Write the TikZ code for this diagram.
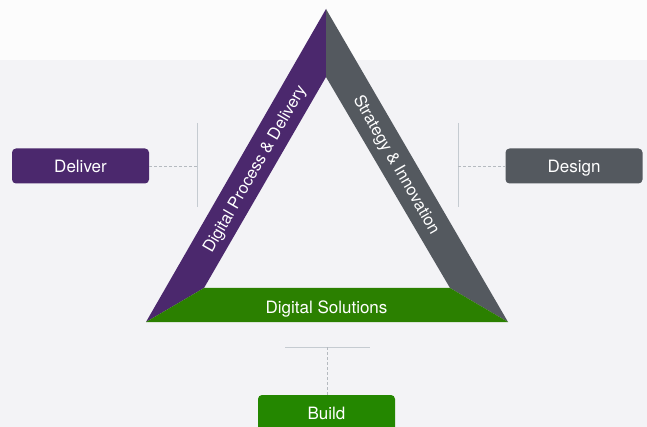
\documentclass[tikz,border=0pt]{standalone}
\usepackage{fontspec}
\setmainfont{TeX Gyre Heros}
\definecolor{bgGray}{HTML}{F3F3F6}
\definecolor{bgTop}{HTML}{FCFCFC}
\definecolor{tPurple}{HTML}{4B286D}
\definecolor{tGray}{HTML}{54595F}
\definecolor{tGreen}{HTML}{2B8000}
\definecolor{bGreen}{HTML}{248700}
\definecolor{lineGray}{HTML}{C5CBD1}
\definecolor{dashGray}{HTML}{B5BAC0}
\tikzset{
  box/.style={rounded corners=4pt, minimum width=137pt, minimum height=35pt, inner sep=0pt, text=white, font=\fontsize{17}{20}\selectfont, text height=12.2pt, text depth=0pt},
  bandtext/.style={text=white, font=\fontsize{16.5}{20}\selectfont, inner sep=0pt},
  conn/.style={draw=dashGray, dashed, dash pattern=on 3pt off 2pt, line width=0.8pt},
  bar/.style={draw=lineGray, line width=1pt}
}
\begin{document}
\begin{tikzpicture}[x=1pt,y=-1pt]
\clip (0,0) rectangle (647,427);
\fill[bgGray] (0,0) rectangle (647,427);
\fill[bgTop] (0,0) rectangle (647,60);
% triangle coordinates
\coordinate (apex) at (326,9);
\coordinate (iapex) at (326,77);
\coordinate (ol) at (146,322);
\coordinate (or) at (508,322);
\coordinate (il) at (204,288);
\coordinate (ir) at (450,288);
\fill[tPurple] (apex) -- (iapex) -- (il) -- (ol) -- cycle;
\fill[tGray] (apex) -- (or) -- (ir) -- (iapex) -- cycle;
\fill[tGreen] (ol) -- (il) -- (ir) -- (or) -- cycle;
\node[bandtext, rotate=60.1] (dpd) at (255.5,169.5) {Digital Process \& Delivery};
\node[bandtext, rotate=-60.1] (si) at (396,165) {Strategy \& Innovation};
\node[bandtext, font=\fontsize{17}{20}\selectfont, text height=12.2pt, text depth=0pt] (ds) at (326.5,307) {Digital Solutions};
% side boxes
\node[box, fill=tPurple] (deliver) at (80.5,166) {Deliver};
\node[box, fill=tGray] (design) at (574,166) {Design};
\node[box, fill=bGreen, minimum height=37pt] (build) at (326.5,413.5) {Build};
% bars
\coordinate (lbT) at (197,123);
\coordinate (lbB) at (197,207);
\coordinate (lbM) at (197,166);
\coordinate (rbT) at (458,123);
\coordinate (rbB) at (458,207);
\coordinate (rbM) at (458,166);
\coordinate (bbL) at (285,347);
\coordinate (bbR) at (370,347);
\coordinate (bbM) at (327,347);
\draw[bar] (lbT) -- (lbB);
\draw[bar] (rbT) -- (rbB);
\draw[bar] (bbL) -- (bbR);
\draw[conn] (deliver.east) -- (lbM);
\draw[conn] (rbM) -- (design.west);
\draw[conn] (bbM) -- (build.north -| bbM);
\end{tikzpicture}
\end{document}
